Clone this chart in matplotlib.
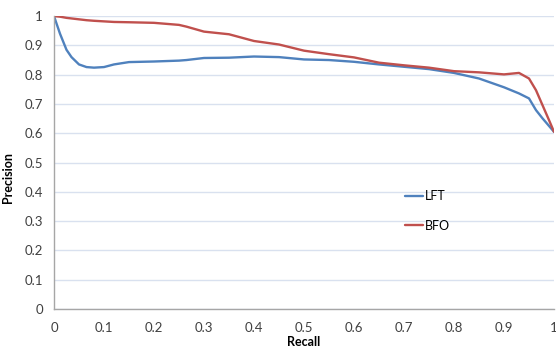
import matplotlib
matplotlib.use("Agg")
import matplotlib.pyplot as plt

plt.rcParams['font.family'] = ['Lato', 'DejaVu Sans']

# precision-recall curves
recall = [0.0, 0.012, 0.025, 0.035, 0.05, 0.065, 0.08, 0.1, 0.12, 0.15, 0.2, 0.25,
          0.265, 0.3, 0.35, 0.4, 0.45, 0.5, 0.55, 0.6, 0.65, 0.7, 0.75, 0.8, 0.85,
          0.9, 0.93, 0.95, 0.964, 0.977, 0.99, 1.0]
lft = [1.0, 0.94, 0.885, 0.86, 0.835, 0.826, 0.824, 0.826, 0.835, 0.843, 0.845,
       0.848, 0.850, 0.857, 0.858, 0.862, 0.860, 0.852, 0.850, 0.844, 0.835, 0.827,
       0.819, 0.806, 0.787, 0.757, 0.736, 0.719, 0.679, 0.651, 0.625, 0.605]
bfo = [1.0, 0.998, 0.994, 0.992, 0.989, 0.986, 0.984, 0.982, 0.980, 0.979, 0.977,
       0.970, 0.964, 0.947, 0.938, 0.915, 0.903, 0.882, 0.870, 0.859, 0.841, 0.832,
       0.824, 0.812, 0.808, 0.801, 0.806, 0.787, 0.747, 0.696, 0.645, 0.605]

xticks = [0, 0.1, 0.2, 0.3, 0.4, 0.5, 0.6, 0.7, 0.8, 0.9, 1]
yticks = [0, 0.1, 0.2, 0.3, 0.4, 0.5, 0.6, 0.7, 0.8, 0.9, 1]
tick_text = ['0', '0.1', '0.2', '0.3', '0.4', '0.5', '0.6', '0.7', '0.8', '0.9', '1']

fig = plt.figure(figsize=(5.56, 3.5), dpi=100)
ax = fig.add_axes([0.0971, 0.1171, 0.8993, 0.8369])

ax.plot(recall, lft, color='#4f81bd', lw=1.7, label='LFT',
        solid_capstyle='round', solid_joinstyle='round')
ax.plot(recall, bfo, color='#c0504d', lw=1.7, label='BFO',
        solid_capstyle='round', solid_joinstyle='round')

ax.set_xlim(0, 1)
ax.set_ylim(0, 1)
ax.set_xticks(xticks)
ax.set_xticklabels(tick_text)
ax.set_yticks(yticks)
ax.set_yticklabels(tick_text)
ax.tick_params(length=0, labelsize=9.5, colors='#404040')
ax.tick_params(axis='y', pad=8)
ax.tick_params(axis='x', pad=9)

ax.grid(axis='y', color='#d9e1ef', lw=1)
ax.set_axisbelow(True)
for s in ['top', 'right']:
    ax.spines[s].set_visible(False)
for s in ['left', 'bottom']:
    ax.spines[s].set_color('#a6a6a6')
    ax.spines[s].set_linewidth(1)

ax.set_xlabel('Recall', fontsize=9, fontweight='bold', labelpad=2)
ax.set_ylabel('Precision', fontsize=9, fontweight='bold')
ax.yaxis.set_label_coords(-0.08, 0.45)

ax.legend(frameon=False, fontsize=9, handlelength=1.4, handletextpad=0.2,
          labelspacing=1.4, loc='center left', bbox_to_anchor=(0.68, 0.335))

fig.savefig('out.png', dpi=100)
